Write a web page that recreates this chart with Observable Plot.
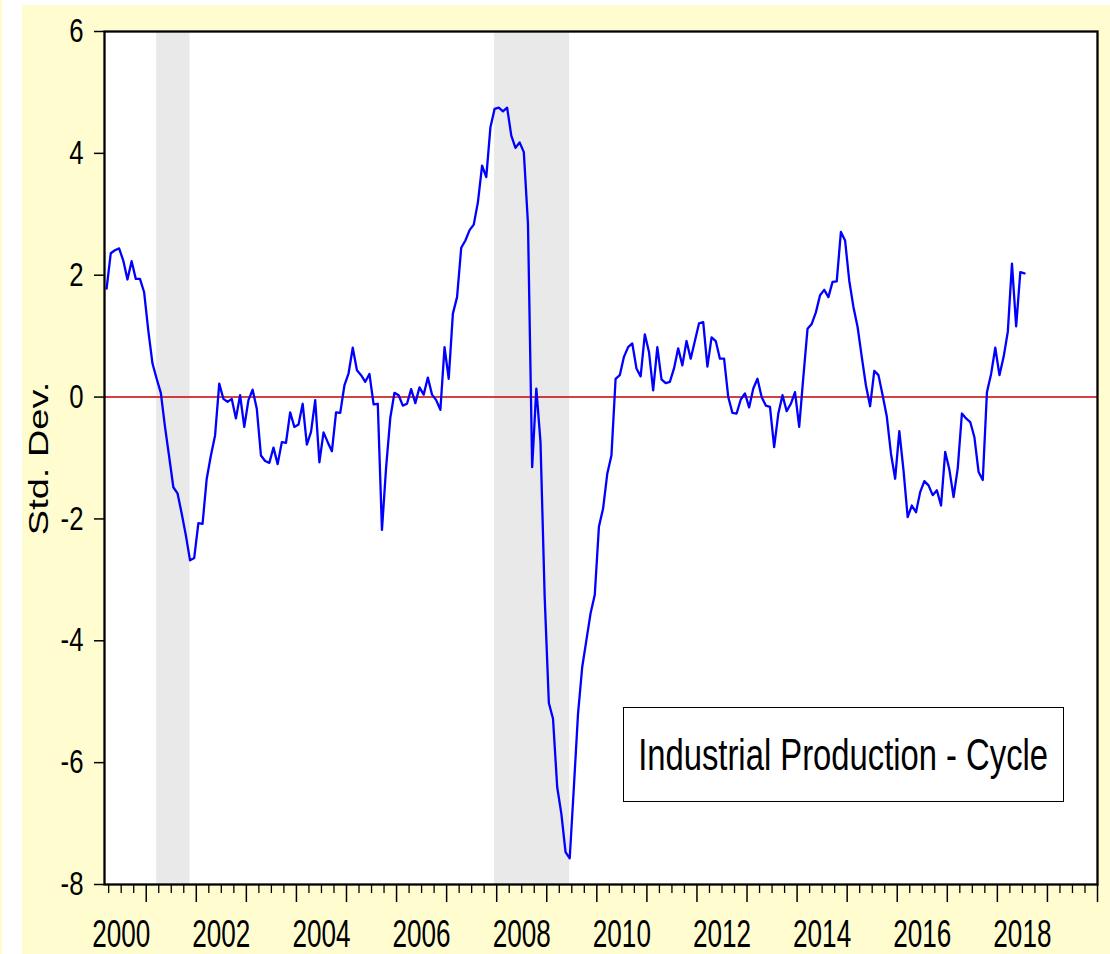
<!DOCTYPE html>
<html>
<head>
<meta charset="utf-8">
<script src="https://cdn.jsdelivr.net/npm/d3@7"></script>
<script src="https://cdn.jsdelivr.net/npm/@observablehq/plot@0.6"></script>
<style>
html, body { margin: 0; padding: 0; background: #fff; }
#wrap { position: relative; width: 1110px; height: 954px; overflow: hidden; }
#wrap svg { position: absolute; left: 0; top: 0; }
.strip { position: absolute; background: #fff; }
#legend { position: absolute; left: 623px; top: 707px; width: 441px; height: 95px; border: 1.5px solid #000; background: #fff;
  display: flex; align-items: center; justify-content: center; box-sizing: border-box; overflow: visible; }
#legend span { display: inline-block; font-family: "Liberation Sans", Arial, sans-serif; font-size: 44px; line-height: 1;
  transform: scaleX(0.745); white-space: nowrap; color: #000; }
</style>
</head>
<body>
<div id="wrap"></div>
<script>
// ---- data (monthly cycle, 2000M03 .. 2018M07) ----
const startYear = 2000;
const startMonth = 3;
const cycle = [
  1.78, 2.36, 2.41, 2.44, 2.24, 1.93, 2.23, 1.94, 1.94, 1.72,
  1.09, 0.55, 0.30, 0.07, -0.49, -0.98, -1.48, -1.58, -1.91, -2.27,
  -2.68, -2.64, -2.07, -2.08, -1.34, -0.96, -0.63, 0.22, -0.03, -0.08,
  -0.03, -0.35, 0.03, -0.49, -0.05, 0.12, -0.19, -0.96, -1.05, -1.08,
  -0.83, -1.10, -0.74, -0.75, -0.25, -0.49, -0.45, -0.11, -0.78, -0.57,
  -0.05, -1.07, -0.58, -0.74, -0.89, -0.25, -0.26, 0.19, 0.39, 0.81,
  0.44, 0.36, 0.25, 0.38, -0.12, -0.11, -2.18, -1.15, -0.34, 0.07,
  0.03, -0.14, -0.11, 0.13, -0.10, 0.16, 0.04, 0.32, 0.04, -0.05,
  -0.21, 0.82, 0.30, 1.37, 1.64, 2.45, 2.57, 2.74, 2.83, 3.20,
  3.80, 3.61, 4.43, 4.73, 4.75, 4.69, 4.75, 4.29, 4.09, 4.18,
  4.02, 2.84, -1.15, 0.14, -0.74, -3.28, -5.02, -5.28, -6.40, -6.84,
  -7.47, -7.57, -6.40, -5.19, -4.43, -3.99, -3.55, -3.25, -2.13, -1.83,
  -1.26, -0.96, 0.30, 0.36, 0.66, 0.82, 0.88, 0.47, 0.34, 1.03,
  0.74, 0.11, 0.82, 0.29, 0.23, 0.25, 0.47, 0.80, 0.52, 0.92,
  0.63, 0.92, 1.21, 1.23, 0.50, 0.98, 0.92, 0.63, 0.63, 0.00,
  -0.26, -0.27, -0.04, 0.06, -0.17, 0.14, 0.30, 0.00, -0.14, -0.16,
  -0.82, -0.27, 0.03, -0.23, -0.11, 0.08, -0.49, 0.33, 1.12, 1.20,
  1.39, 1.67, 1.76, 1.64, 1.89, 1.90, 2.71, 2.57, 1.91, 1.48,
  1.15, 0.66, 0.19, -0.15, 0.43, 0.36, 0.03, -0.32, -0.93, -1.34,
  -0.56, -1.20, -1.97, -1.78, -1.89, -1.56, -1.38, -1.45, -1.61, -1.53,
  -1.78, -0.90, -1.19, -1.64, -1.17, -0.27, -0.35, -0.41, -0.66, -1.23,
  -1.36, 0.08, 0.38, 0.81, 0.36, 0.66, 1.07, 2.19, 1.16, 2.05,
  2.03
];
const recessionStart = ["2001-03", "2007-12"];
const recessionEnd = ["2001-11", "2009-06"];
const yTicks = [-8, -6, -4, -2, 0, 2, 4, 6];
const yDomain = [-8, 6];
const xLabelYears = [2000, 2002, 2004, 2006, 2008, 2010, 2012, 2014, 2016, 2018];
const majorTickYears = d3.range(2001, 2021);
const legendText = "Industrial Production - Cycle";
const yLabel = "Std. Dev.";

// ---- derived tables ----
const monthCenter = (y, m) => y + (m - 1) / 12 + 1 / 24; // observation centre
const parseYM = s => { const [y, m] = s.split("-").map(Number); return monthCenter(y, m); };
const series = cycle.map((v, i) => {
  const k = startMonth - 1 + i;
  return { t: monthCenter(startYear + Math.floor(k / 12), (k % 12) + 1), v };
});
const recessions = recessionStart.map((s, i) => ({ x1: parseYM(s), x2: parseYM(recessionEnd[i]), y1: yDomain[0], y2: yDomain[1] }));
const xDomain = [startYear + (startMonth - 1) / 12, 2020];
const minorTicks = d3.range(2000.25, 2020, 0.25).filter(d => d % 1 !== 0 && d > xDomain[0]);

const FONT = '"Liberation Sans", Arial, Helvetica, sans-serif';

const chart = Plot.plot({
  width: 1110,
  height: 954,
  marginTop: 31,
  marginRight: 13,
  marginBottom: 70,
  marginLeft: 104,
  style: { background: "#FFFDD0", color: "#000", fontFamily: FONT, overflow: "visible" },
  x: { type: "linear", domain: xDomain, label: null },
  y: { domain: yDomain, label: null },
  marks: [
    Plot.frame({ fill: "white", stroke: null }),
    Plot.rect(recessions, { x1: "x1", x2: "x2", y1: "y1", y2: "y2", fill: "#E9E9E9" }),
    Plot.ruleY([0], { stroke: "#C80000", strokeWidth: 1.6 }),
    Plot.line(series, { x: "t", y: "v", stroke: "#0000FF", strokeWidth: 2.3 }),
    Plot.axisY({ ticks: yTicks, tickSize: 10, tickPadding: 11, fontSize: 33, tickFormat: d => String(d), strokeWidth: 1.5 }),
    Plot.axisX({ ticks: majorTickYears, tickSize: 18, tickFormat: () => "", strokeWidth: 1.5 }),
    Plot.axisX({ ticks: minorTicks, tickSize: 9, tickFormat: () => "", strokeWidth: 1.3 }),
    Plot.axisX({ ticks: xLabelYears.map(y => y + 0.5), tickSize: 0, tickPadding: 35, fontSize: 39, tickFormat: d => String(Math.floor(d)) }),
    Plot.frame({ stroke: "#000", strokeWidth: 2.3 })
  ]
});

function squeeze(nodes, s) {
  nodes.each(function () {
    const t = this.getAttribute("transform");
    if (t && t.includes("translate")) {
      this.setAttribute("transform", t + ` scale(${s},1)`);
    } else {
      const x = parseFloat(this.getAttribute("x")) || 0;
      const y = parseFloat(this.getAttribute("y")) || 0;
      this.setAttribute("x", 0);
      this.setAttribute("y", 0);
      this.setAttribute("transform", `translate(${x},${y}) scale(${s},1)` + (t ? " " + t : ""));
    }
  });
}

const svg = d3.select(chart);
squeeze(svg.selectAll("g[aria-label='y-axis tick label'] text"), 0.78);
squeeze(svg.selectAll("g[aria-label='x-axis tick label'] text"), 0.67);

svg.append("text")
  .attr("transform", "translate(48,458.5) rotate(-90) scale(1,0.74)")
  .attr("text-anchor", "middle")
  .attr("font-family", FONT)
  .attr("font-size", 38)
  .attr("fill", "#000")
  .text(yLabel);

const wrap = document.getElementById("wrap");
wrap.appendChild(chart);

// white page margins around the cream panel
const s1 = document.createElement("div"); s1.className = "strip";
Object.assign(s1.style, { left: "2px", top: "0px", width: "20px", height: "954px" });
const s2 = document.createElement("div"); s2.className = "strip";
Object.assign(s2.style, { left: "2px", top: "0px", width: "1108px", height: "5px" });
wrap.appendChild(s1); wrap.appendChild(s2);

const legend = document.createElement("div");
legend.id = "legend";
const span = document.createElement("span");
span.textContent = legendText;
legend.appendChild(span);
wrap.appendChild(legend);
</script>
</body>
</html>
